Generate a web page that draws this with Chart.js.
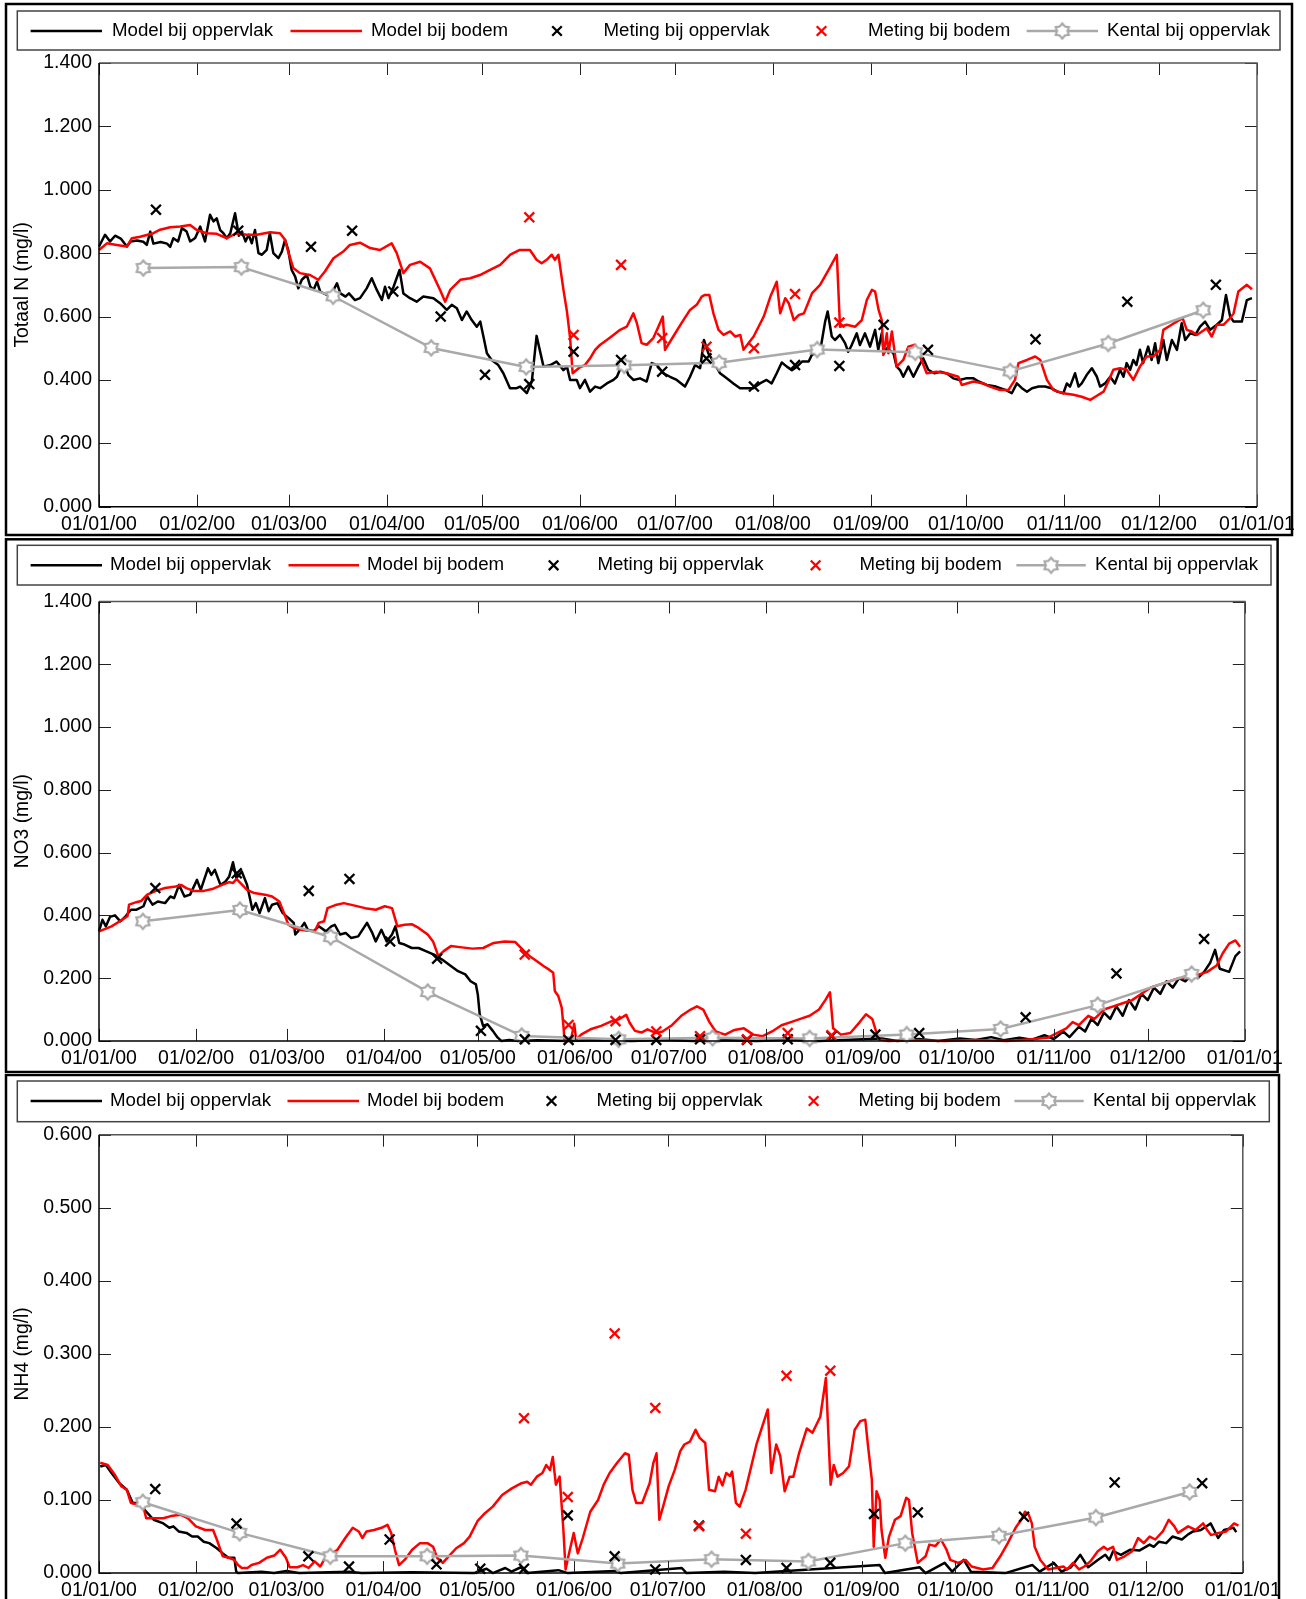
<!DOCTYPE html>
<html><head><meta charset="utf-8">
<script src="https://cdn.jsdelivr.net/npm/chart.js@4.4.1/dist/chart.umd.min.js"></script>
<style>
html,body{margin:0;padding:0;background:#fff;}
#wrap{position:relative;width:1306px;height:1599px;overflow:hidden;background:#fff;}
#wrap canvas{position:absolute;left:0;}
</style></head><body>
<div id="wrap">
<canvas id="c1" width="1306" height="537" style="top:0px"></canvas>
<canvas id="c2" width="1306" height="536" style="top:537px"></canvas>
<canvas id="c3" width="1306" height="526" style="top:1073px"></canvas>
</div>
<script>
// ---------- DATA ----------
const monthTickDays = [0,31,60,91,121,152,182,213,244,274,305,335,366];
const monthTickLabels = ['01/01/00','01/02/00','01/03/00','01/04/00','01/05/00','01/06/00','01/07/00','01/08/00','01/09/00','01/10/00','01/11/00','01/12/00','01/01/01'];
const legendLabels = ['Model bij oppervlak','Model bij bodem','Meting bij oppervlak','Meting bij bodem','Kental bij oppervlak'];
const yTitles = ['Totaal N (mg/l)','NO3 (mg/l)','NH4 (mg/l)'];

const meetDaysOpp = [18,44,67,80,93,108,122,136,150,165,178,192,207,220,234,248,262,296,325,353];
const meetDaysBod = [136,150,165,178,192,207,220,234];
const kentalDays = [14,45,74,105,135,166,196,227,258,288,319,349];

// Totaal N
const totN_meetOpp = [0.937,0.871,0.820,0.871,0.679,0.600,0.416,0.387,0.489,0.463,0.426,0.468,0.379,0.447,0.444,0.574,0.495,0.528,0.647,0.700];
const totN_meetBod = [0.913,0.542,0.763,0.532,0.505,0.500,0.671,0.581];
const totN_kental = [0.753,0.756,0.664,0.501,0.441,0.446,0.454,0.496,0.487,0.427,0.515,0.620];
const totN_modelOpp = [[0,0.821],[1.9,0.858],[3.5,0.837],[5.1,0.855],[7,0.845],[8.8,0.821],[10,0.837],[12,0.840],[14,0.836],[15.1,0.826],[16.2,0.868],[17.2,0.830],[19.5,0.835],[21.5,0.830],[22.5,0.820],[23.5,0.847],[25,0.837],[26.2,0.879],[27.7,0.868],[28.8,0.837],[30.4,0.848],[32,0.884],[33.5,0.837],[35.1,0.921],[36.2,0.900],[37.2,0.910],[38.3,0.873],[39.3,0.863],[40.4,0.847],[41.5,0.863],[43,0.926],[44.2,0.855],[45.2,0.868],[46.3,0.837],[47.3,0.858],[48.3,0.831],[49.3,0.873],[50.4,0.800],[51.5,0.795],[53,0.810],[54,0.863],[55.1,0.800],[56.7,0.784],[57.8,0.805],[58.8,0.842],[59.8,0.810],[60.9,0.747],[62,0.726],[63,0.689],[64.1,0.716],[65.7,0.731],[66.8,0.694],[67.8,0.684],[68.9,0.710],[69.9,0.679],[72,0.668],[73.6,0.673],[75.2,0.705],[76.3,0.673],[77.9,0.663],[79,0.673],[80.9,0.652],[82.5,0.658],[84.6,0.689],[86.2,0.721],[87.8,0.684],[89.4,0.652],[90.4,0.694],[91.5,0.658],[93.1,0.694],[95,0.747],[96.2,0.673],[98.3,0.658],[100.4,0.647],[102.5,0.663],[105.7,0.658],[107.8,0.642],[109.9,0.621],[111.5,0.637],[113.1,0.626],[114.7,0.589],[116.2,0.616],[117.8,0.589],[119.4,0.568],[120.5,0.584],[121.5,0.537],[122.6,0.484],[124.1,0.463],[126.2,0.447],[127.8,0.421],[129.9,0.374],[132,0.374],[133.1,0.379],[135.2,0.358],[136.8,0.395],[138.3,0.539],[140.5,0.442],[142.7,0.447],[144.6,0.458],[146.8,0.431],[147.9,0.442],[148.9,0.400],[151,0.400],[152,0.374],[153.6,0.400],[155.2,0.363],[156.8,0.379],[158.4,0.374],[160.5,0.389],[162.6,0.400],[163.7,0.410],[165.7,0.458],[167.3,0.416],[168.9,0.400],[171,0.405],[173.1,0.395],[174.7,0.453],[176.3,0.447],[178.4,0.421],[180.5,0.410],[182.6,0.400],[185.2,0.379],[186.8,0.410],[188.4,0.447],[190,0.437],[191.2,0.526],[192.6,0.484],[194.2,0.458],[196.3,0.421],[198.4,0.405],[200.5,0.389],[202.6,0.374],[206.8,0.374],[208.9,0.389],[211,0.400],[212.6,0.389],[214.2,0.421],[215.8,0.455],[217.4,0.442],[219,0.431],[220.6,0.442],[222.2,0.458],[224.3,0.458],[225.3,0.479],[226.4,0.484],[228,0.495],[229.5,0.584],[230.3,0.616],[231.6,0.537],[232.6,0.526],[234.2,0.542],[235.8,0.516],[236.8,0.489],[237.9,0.510],[239.5,0.547],[240.5,0.510],[242.1,0.547],[243.7,0.505],[245.3,0.558],[246.3,0.495],[247.4,0.547],[248.1,0.484],[249,0.500],[251.1,0.484],[252.1,0.442],[253.2,0.431],[254.2,0.410],[255.8,0.442],[257.4,0.410],[259,0.442],[260.5,0.468],[262.1,0.432],[264,0.421],[266,0.426],[268,0.420],[270,0.405],[272,0.400],[274,0.405],[276.4,0.405],[278,0.395],[280.6,0.384],[283.5,0.379],[286.7,0.368],[288.5,0.358],[290.1,0.389],[291.7,0.374],[293.3,0.363],[294.9,0.374],[297,0.379],[299,0.379],[301,0.374],[302.9,0.363],[304.8,0.358],[305.9,0.389],[306.9,0.379],[308.5,0.421],[309.6,0.379],[310.6,0.389],[312.2,0.416],[313.8,0.437],[315.4,0.410],[316.4,0.379],[318,0.389],[319.6,0.410],[321.1,0.389],[322.7,0.432],[323.8,0.410],[324.8,0.453],[325.9,0.432],[326.9,0.463],[327.9,0.447],[329,0.495],[330,0.453],[331.6,0.505],[332.7,0.463],[333.8,0.516],[334.8,0.453],[336.4,0.526],[337.5,0.463],[339.1,0.526],[340.7,0.495],[342.2,0.579],[343.3,0.526],[344.9,0.547],[346.5,0.542],[348,0.568],[349.6,0.584],[351.2,0.558],[353.3,0.574],[354.9,0.589],[356.2,0.668],[357.5,0.600],[358.6,0.584],[361.2,0.584],[362.8,0.652],[364.4,0.658]];
const totN_modelBod = [[0,0.810],[2.5,0.831],[5.6,0.826],[8.8,0.821],[10.4,0.847],[13,0.852],[17.2,0.863],[19.3,0.874],[22.5,0.882],[25.7,0.884],[28.8,0.889],[30.9,0.873],[34,0.863],[37.2,0.861],[40.4,0.847],[43.5,0.863],[46.7,0.858],[49.9,0.858],[54.1,0.866],[57.2,0.863],[58.8,0.842],[59.8,0.805],[61.4,0.753],[63.5,0.737],[66.7,0.731],[69.3,0.716],[71.4,0.742],[74.1,0.784],[77.2,0.805],[79.3,0.826],[82.5,0.833],[85.7,0.816],[88.8,0.810],[92.5,0.831],[94.1,0.800],[96.2,0.737],[98.3,0.763],[101.5,0.773],[104.6,0.752],[107.8,0.684],[109.4,0.647],[111,0.684],[114.2,0.716],[117.3,0.721],[120.4,0.731],[123.6,0.747],[126.8,0.763],[130,0.795],[133,0.810],[136.2,0.810],[138.3,0.779],[139.9,0.768],[141.5,0.779],[143.1,0.795],[144.1,0.779],[145.2,0.795],[146.8,0.684],[147.9,0.616],[148.9,0.532],[149.7,0.421],[152,0.440],[153.6,0.447],[155.2,0.468],[156.8,0.495],[158.4,0.511],[160.5,0.526],[162.6,0.542],[164.7,0.558],[166.8,0.568],[168.9,0.610],[170,0.579],[171.5,0.516],[173.1,0.511],[175.2,0.532],[176.8,0.568],[178.2,0.600],[178.9,0.495],[181.5,0.537],[184.1,0.579],[186.8,0.621],[188.9,0.637],[190.5,0.663],[191.5,0.668],[192.9,0.668],[194.2,0.610],[195.8,0.558],[197.4,0.542],[199.5,0.553],[201.1,0.537],[202.7,0.542],[203.7,0.495],[206.9,0.537],[210.1,0.600],[212.2,0.663],[214.2,0.710],[215.3,0.610],[216.9,0.658],[218,0.642],[219.6,0.589],[221.2,0.605],[222.8,0.610],[225.4,0.674],[227.9,0.700],[230.6,0.747],[233.2,0.795],[234.2,0.568],[236.3,0.574],[239,0.568],[241.1,0.589],[242.7,0.653],[244.3,0.684],[245.3,0.679],[246.4,0.621],[247.4,0.589],[247.9,0.479],[249,0.547],[249.5,0.484],[250.6,0.553],[252.1,0.442],[254.2,0.463],[255.8,0.505],[257.9,0.511],[259.5,0.474],[261.6,0.421],[264.7,0.426],[267.9,0.421],[271.6,0.410],[272.7,0.384],[276.4,0.395],[279.5,0.389],[281.6,0.379],[284.8,0.368],[287.4,0.368],[289.5,0.400],[290.6,0.453],[293.3,0.463],[295.9,0.474],[297.5,0.463],[299.6,0.400],[301.7,0.368],[304.8,0.358],[308,0.353],[310.6,0.347],[313.3,0.337],[314.9,0.347],[317.5,0.363],[319,0.395],[320.6,0.432],[322.7,0.437],[324.8,0.432],[326.9,0.400],[329,0.442],[331.1,0.474],[333.2,0.474],[335.4,0.495],[336.4,0.558],[338.5,0.571],[340.6,0.584],[342.5,0.595],[343.8,0.558],[345.4,0.553],[347,0.542],[348.6,0.553],[350.1,0.563],[351.7,0.537],[353.3,0.574],[355.4,0.574],[357.5,0.595],[358.6,0.610],[360.1,0.679],[362.8,0.700],[364.4,0.686]];

// NO3
const no3_meetOpp = [0.487,0.534,0.478,0.516,0.317,0.262,0.032,0.005,0.003,0.003,0.003,0.005,0.003,0.005,0.015,0.020,0.025,0.075,0.215,0.325];
const no3_meetBod = [0.275,0.051,0.063,0.030,0.015,0.005,0.025,0.018];
const no3_kental = [0.381,0.417,0.331,0.156,0.016,0.005,0.010,0.008,0.020,0.038,0.114,0.213];
const no3_modelOpp = [[0,0.349],[1.1,0.386],[2.2,0.365],[3.5,0.395],[5.1,0.400],[6.8,0.381],[8.5,0.397],[10.2,0.418],[12,0.418],[14.2,0.429],[15.4,0.460],[17.1,0.434],[18.8,0.444],[21.1,0.439],[22.8,0.460],[24,0.455],[25.6,0.497],[27.3,0.460],[29.1,0.466],[31.3,0.513],[32.5,0.481],[34.8,0.550],[35.9,0.529],[37,0.545],[38.8,0.497],[40.4,0.508],[41.6,0.524],[42.8,0.569],[43.9,0.519],[45.6,0.540],[47.3,0.497],[49,0.418],[50.1,0.439],[51.3,0.407],[53,0.455],[54.2,0.413],[55.3,0.434],[57,0.439],[58.7,0.407],[60.5,0.392],[62.2,0.376],[62.7,0.339],[64.5,0.360],[65.6,0.376],[66.7,0.354],[68.5,0.349],[70.2,0.365],[72.5,0.349],[74.2,0.365],[75.3,0.370],[77,0.339],[78.8,0.344],[80.5,0.328],[82.8,0.333],[85.6,0.376],[87.3,0.344],[88.4,0.317],[90.2,0.354],[91.9,0.317],[93.6,0.339],[94.7,0.365],[95.9,0.312],[97.6,0.307],[99.9,0.296],[102.1,0.296],[104.4,0.286],[107,0.275],[109.6,0.259],[112.5,0.238],[114.7,0.222],[117,0.212],[118.7,0.190],[120.4,0.180],[121,0.148],[121.6,0.085],[122.7,0.048],[124.1,0.053],[125.8,0.032],[127.3,0.011],[128.5,0],[131,0.003],[134,0],[140,0.002],[150,0],[160,0.002],[170,0],[180,0.003],[190,0],[200,0.002],[210,0],[220,0.003],[230,0],[240,0.004],[250,0.008],[255,0],[262,0.006],[268,0],[275,0.008],[280,0.003],[285,0.012],[289,0.002],[294,0.010],[298,0.004],[302,0.018],[305,0.006],[308,0.030],[310,0.012],[313,0.045],[315,0.030],[317,0.070],[319,0.050],[321,0.090],[323,0.070],[325,0.110],[327,0.080],[329,0.130],[331,0.100],[333,0.150],[335,0.130],[337,0.170],[339,0.150],[341,0.190],[343,0.170],[345,0.200],[347,0.190],[349,0.210],[351,0.200],[353,0.220],[355,0.250],[356.5,0.290],[358,0.230],[361,0.220],[363,0.270],[364.5,0.285]];
const no3_modelBod = [[0,0.349],[4,0.365],[7.4,0.386],[9.1,0.397],[9.6,0.434],[11.9,0.442],[13.5,0.446],[15.4,0.466],[18.2,0.478],[21.1,0.487],[24.5,0.492],[26.2,0.497],[27.9,0.487],[30.2,0.478],[33.5,0.478],[36.5,0.485],[39.3,0.497],[41.6,0.506],[42.8,0.503],[43.9,0.516],[45.6,0.499],[47.3,0.481],[49.6,0.471],[53,0.466],[55.3,0.460],[57.6,0.444],[59.3,0.402],[60.5,0.370],[62.2,0.360],[64.5,0.354],[66.7,0.351],[69,0.351],[70.2,0.376],[71.9,0.381],[73,0.423],[75.9,0.434],[78.2,0.439],[81.7,0.431],[85,0.423],[88.4,0.418],[91.3,0.429],[93.6,0.423],[95.3,0.365],[97.6,0.370],[99.9,0.372],[102.1,0.360],[105,0.339],[106.7,0.317],[108.4,0.270],[110.1,0.286],[112.4,0.302],[115.9,0.298],[119.3,0.294],[122.7,0.296],[126.1,0.312],[129.6,0.317],[133,0.315],[135.8,0.286],[137.6,0.270],[139.9,0.254],[142.1,0.238],[143.8,0.227],[145.1,0.217],[145.6,0.159],[146.7,0.143],[147.8,0.106],[148.4,0.042],[148.7,0],[150.7,0.002],[151.8,0.055],[152.4,0.005],[154.1,0.021],[157,0.037],[160.4,0.048],[163.8,0.063],[166.1,0.069],[168.4,0.083],[169.5,0.058],[171.2,0.032],[173.4,0.027],[175.2,0.037],[178,0.025],[180,0.030],[183,0.050],[186,0.080],[189,0.100],[191,0.110],[193,0.100],[195,0.060],[197,0.030],[200,0.020],[203,0.035],[206,0.040],[209,0.020],[212,0.015],[215,0.030],[218,0.050],[221,0.060],[224,0.070],[227,0.080],[230,0.100],[232,0.130],[233.5,0.155],[234.5,0.040],[237,0.020],[240,0.025],[243,0.060],[245,0.085],[247,0.070],[249,0.005],[252,0],[260,0.002],[270,0],[280,0.003],[290,0],[298,0.005],[303,0.010],[306,0.025],[309,0.040],[311,0.060],[313,0.050],[316,0.080],[318,0.070],[321,0.100],[324,0.110],[327,0.120],[330,0.130],[333,0.150],[336,0.170],[339,0.180],[342,0.190],[345,0.200],[348,0.200],[351,0.210],[354,0.220],[357,0.240],[359,0.280],[361,0.310],[363,0.320],[364.5,0.300]];

// NH4
const nh4_meetOpp = [0.115,0.068,0.023,0.009,0.046,0.012,0.006,0.006,0.079,0.023,0.005,0.065,0.018,0.007,0.014,0.081,0.083,0.077,0.124,0.123];
const nh4_meetBod = [0.212,0.104,0.328,0.226,0.064,0.054,0.270,0.277];
const nh4_kental = [0.097,0.055,0.023,0.023,0.024,0.013,0.019,0.016,0.041,0.051,0.076,0.111];
const nh4_modelOpp = [[0.4,0.146],[2.2,0.148],[4,0.137],[6.5,0.123],[8.9,0.114],[10.8,0.096],[13,0.096],[15.1,0.084],[17.5,0.073],[20.6,0.068],[22.5,0.062],[23.8,0.064],[25.5,0.057],[28,0.055],[29.8,0.050],[31.6,0.050],[33.5,0.043],[35.3,0.041],[37.7,0.034],[39.6,0.027],[41.4,0.021],[43.3,0.021],[43.9,0.002],[44.5,0],[52,0.002],[56,0],[60,0.003],[64,0],[80,0.002],[84,0],[100,0.001],[120,0],[124,0.006],[126,0],[130,0.007],[132,0.002],[135,0.008],[137,0],[147,0.004],[150,0],[165,0.003],[167,0],[186.5,0.007],[188,0],[200,0.002],[210,0],[249.8,0.011],[251.5,0],[262.6,0.008],[264.5,0],[270.6,0.014],[273,0.002],[276.7,0.018],[279,0.002],[290,0],[298.7,0.011],[301,0.002],[305.5,0.014],[308,0.002],[311,0.008],[314,0.025],[316.5,0.008],[319.6,0.018],[322,0.025],[323.3,0.018],[324.5,0.030],[327,0.025],[330,0.032],[333,0.031],[336.2,0.039],[337.5,0.036],[339.2,0.043],[341.5,0.041],[343.5,0.050],[346.5,0.046],[348.5,0.053],[350.1,0.057],[352.6,0.059],[355.7,0.068],[358.1,0.048],[360,0.059],[363,0.062],[363.9,0.056]];
const nh4_modelBod = [[0.4,0.151],[2.8,0.148],[5,0.135],[7.1,0.119],[8.9,0.114],[10.2,0.096],[12.6,0.094],[14.4,0.087],[15.1,0.075],[17.5,0.075],[20.6,0.075],[23,0.078],[26.1,0.080],[28.5,0.075],[31,0.064],[34,0.059],[36.5,0.059],[37.7,0.046],[39.6,0.023],[41.5,0.021],[43.3,0.018],[44.5,0.011],[45.7,0.007],[47.5,0.007],[48.8,0.011],[51.2,0.014],[53.7,0.021],[56.1,0.024],[58,0.032],[59.8,0.021],[61,0.008],[63.5,0.008],[65.3,0.011],[67.1,0.007],[69,0.016],[70.8,0.009],[72,0.018],[73.9,0.025],[76.3,0.032],[78.8,0.048],[81.2,0.062],[83.1,0.057],[84.3,0.048],[85.6,0.057],[88,0.059],[90.4,0.062],[92.3,0.066],[93.5,0.055],[94.7,0.032],[96,0.011],[97.8,0.018],[100.2,0.032],[102.7,0.041],[105.1,0.041],[106.9,0.036],[108.2,0.021],[110,0.014],[111.9,0.023],[114.3,0.034],[116.8,0.041],[118.6,0.050],[121.1,0.071],[123.5,0.082],[126,0.091],[129,0.107],[132.1,0.116],[135.2,0.123],[137,0.125],[138.2,0.121],[140.1,0.132],[141.9,0.137],[143.1,0.148],[144.3,0.141],[145.2,0.159],[146.2,0.121],[147.4,0.132],[148.6,0.059],[149.3,0.005],[150.2,0.023],[151.9,0.055],[153.2,0.027],[154.8,0.048],[157.2,0.084],[159.7,0.100],[161.5,0.121],[163.4,0.137],[165.8,0.151],[168.3,0.164],[169.5,0.162],[170.7,0.114],[171.9,0.096],[173.8,0.096],[176.2,0.123],[177.4,0.151],[178.4,0.164],[179.3,0.073],[180.5,0.091],[182.3,0.119],[184.2,0.141],[186,0.167],[187.3,0.176],[189.1,0.180],[190.9,0.196],[192.2,0.185],[194,0.178],[195.2,0.114],[197.1,0.112],[198.3,0.132],[199.5,0.120],[200.7,0.137],[201.9,0.133],[202.6,0.139],[203.8,0.096],[205,0.091],[206.9,0.114],[208.7,0.146],[210.5,0.178],[212.4,0.203],[214,0.224],[215.1,0.137],[216.7,0.176],[218,0.160],[219.4,0.112],[221,0.132],[222.2,0.132],[224,0.164],[226.5,0.198],[228.3,0.192],[230.8,0.214],[232.6,0.267],[234.1,0.121],[235.1,0.148],[236.3,0.132],[238.1,0.137],[240,0.146],[241.8,0.196],[243.6,0.208],[245.2,0.210],[246.1,0.173],[247.3,0.128],[247.9,0.036],[248.8,0.112],[249.8,0.100],[250.4,0.059],[251.6,0.021],[252.8,0.050],[254.7,0.073],[256.5,0.078],[258.3,0.103],[259.2,0.100],[260.2,0.055],[262,0.014],[264.5,0.023],[265.7,0.039],[267.6,0.037],[269.4,0.046],[271.2,0.032],[272.4,0.018],[274.9,0.014],[277.3,0.018],[279.2,0.009],[282.9,0.005],[285.9,0.007],[288.4,0.023],[290.8,0.041],[293.3,0.062],[295.1,0.073],[296.3,0.084],[297.5,0.080],[298.5,0.068],[299.4,0.036],[301.2,0.018],[303.7,0.005],[306.1,0.007],[308.6,0.009],[309.8,0.005],[311.7,0.014],[313.6,0.005],[315.3,0.009],[317.2,0.016],[319.6,0.030],[321.5,0.036],[322.7,0.032],[324.5,0.036],[325.7,0.018],[328.2,0.023],[330.6,0.030],[332.5,0.048],[334.3,0.041],[336.2,0.050],[338,0.046],[340.4,0.057],[342.3,0.073],[344.1,0.064],[345.3,0.055],[348.5,0.064],[350.9,0.059],[353.3,0.068],[354.6,0.059],[355.8,0.052],[358.3,0.055],[360.7,0.057],[363.2,0.068],[364.6,0.065]];

// ---------- STYLE / RENDER ----------
const FONT = '"Liberation Sans", Arial, Helvetica, sans-serif';
const RED = '#ff0000', BLACK = '#000000', GRAY = '#a9a9a9';

function makeGear(color){
  const c = document.createElement('canvas'); c.width = 20; c.height = 20;
  const g = c.getContext('2d');
  g.beginPath();
  for (let i = 0; i < 12; i++) {
    const r = (i % 2) ? 5.2 : 7.6;
    const ang = -Math.PI / 2 + i * Math.PI / 6;
    g.lineTo(10 + r * Math.cos(ang), 10 + r * Math.sin(ang));
  }
  g.closePath(); g.fillStyle = '#fff'; g.fill();
  g.strokeStyle = color; g.lineWidth = 2.2; g.stroke();
  return c;
}
const gear = makeGear(GRAY);

const pairs = arr => arr.map(p => ({x: p[0], y: p[1]}));
const zip = (days, vals) => days.map((d, i) => ({x: d, y: vals[i]}));

const decoPlugin = {
  id: 'panelDeco',
  afterDraw(chart, args, o) {
    const ctx = chart.ctx, a = chart.chartArea;
    const xs = chart.scales.x, ys = chart.scales.y;
    ctx.save();
    ctx.strokeStyle = '#222'; ctx.lineWidth = 1;
    ctx.beginPath();
    xs.ticks.forEach(t => {
      const px = Math.round(xs.getPixelForValue(t.value)) + 0.5;
      ctx.moveTo(px, a.bottom); ctx.lineTo(px, a.bottom - 12);
      ctx.moveTo(px, a.top); ctx.lineTo(px, a.top + 12);
    });
    ys.ticks.forEach(t => {
      const py = Math.round(ys.getPixelForValue(t.value)) + 0.5;
      ctx.moveTo(a.left, py); ctx.lineTo(a.left + 12, py);
      ctx.moveTo(a.right, py); ctx.lineTo(a.right - 12, py);
    });
    ctx.stroke();
    ctx.lineWidth = 1.5; ctx.strokeStyle = '#555';
    ctx.beginPath(); ctx.moveTo(a.left, a.top); ctx.lineTo(a.right, a.top); ctx.lineTo(a.right, a.bottom); ctx.stroke();
    ctx.strokeStyle = '#000';
    ctx.beginPath(); ctx.moveTo(a.left, a.top); ctx.lineTo(a.left, a.bottom); ctx.lineTo(a.right, a.bottom); ctx.stroke();
    ctx.lineWidth = 2.5; ctx.strokeStyle = '#000';
    const b = o.border; ctx.strokeRect(b[0], b[1], b[2] - b[0], b[3] - b[1]);
    const L = o.legend;
    ctx.lineWidth = 1.5; ctx.strokeStyle = '#444';
    ctx.strokeRect(L.box[0], L.box[1], L.box[2] - L.box[0], L.box[3] - L.box[1]);
    const cy = L.cy;
    ctx.font = '18.7px ' + FONT; ctx.textBaseline = 'middle'; ctx.textAlign = 'left'; ctx.fillStyle = '#000';
    const it = L.items;
    const drawLine = (x0, x1, col) => { ctx.strokeStyle = col; ctx.lineWidth = 2.5; ctx.beginPath(); ctx.moveTo(x0, cy); ctx.lineTo(x1, cy); ctx.stroke(); };
    const drawCross = (cx, col) => { const r = 4.8; ctx.strokeStyle = col; ctx.lineWidth = 2.3; ctx.beginPath(); ctx.moveTo(cx - r, cy - r); ctx.lineTo(cx + r, cy + r); ctx.moveTo(cx + r, cy - r); ctx.lineTo(cx - r, cy + r); ctx.stroke(); };
    drawLine(it[0][0], it[0][1], BLACK); ctx.fillText(legendLabels[0], it[0][2], cy);
    drawLine(it[1][0], it[1][1], RED); ctx.fillText(legendLabels[1], it[1][2], cy);
    drawCross(it[2][0], BLACK); ctx.fillText(legendLabels[2], it[2][2], cy);
    drawCross(it[3][0], RED); ctx.fillText(legendLabels[3], it[3][2], cy);
    drawLine(it[4][0], it[4][1], GRAY);
    ctx.drawImage(gear, (it[4][0] + it[4][1]) / 2 - 10, cy - 10);
    ctx.fillText(legendLabels[4], it[4][2], cy);
    ctx.restore();
  }
};

function makePanel(id, cfg) {
  const datasets = [
    {label: legendLabels[3], data: zip(meetDaysBod, cfg.meetBod), showLine: false, pointStyle: 'crossRot', pointRadius: 7, pointBorderWidth: 2.3, borderColor: RED, backgroundColor: RED, clip: false},
    {label: legendLabels[2], data: zip(meetDaysOpp, cfg.meetOpp), showLine: false, pointStyle: 'crossRot', pointRadius: 7, pointBorderWidth: 2.3, borderColor: BLACK, backgroundColor: BLACK, clip: false},
    {label: legendLabels[4], data: zip(kentalDays, cfg.kental), borderColor: GRAY, borderWidth: 2.5, pointStyle: gear, pointRadius: 8, clip: false},
    {label: legendLabels[1], data: pairs(cfg.modelBod), borderColor: RED, borderWidth: 2.5, pointRadius: 0, clip: false},
    {label: legendLabels[0], data: pairs(cfg.modelOpp), borderColor: BLACK, borderWidth: 2.5, pointRadius: 0, clip: false}
  ];
  return new Chart(document.getElementById(id), {
    type: 'line',
    data: {datasets},
    options: {
      responsive: false, animation: false, devicePixelRatio: 1,
      layout: {padding: cfg.padding},
      elements: {line: {tension: 0, borderJoinStyle: 'round'}},
      plugins: {legend: {display: false}, tooltip: {enabled: false}, panelDeco: {border: cfg.border, legend: cfg.legend}},
      scales: {
        x: {
          type: 'linear', min: 0, max: 366,
          grid: {display: false, drawTicks: false}, border: {display: false},
          afterBuildTicks: s => { s.ticks = monthTickDays.map(v => ({value: v})); },
          afterFit: s => { s.height = cfg.xAxisH; },
          ticks: {autoSkip: false, maxRotation: 0, minRotation: 0, padding: 6, color: '#000', font: {family: FONT, size: 19.5},
            callback: (v, i) => monthTickLabels[i]}
        },
        y: {
          min: 0, max: cfg.ymax,
          grid: {display: false, drawTicks: false}, border: {display: false},
          afterFit: s => { s.width = 99; },
          ticks: {stepSize: cfg.ystep, padding: 7, color: '#000', font: {family: FONT, size: 19.5},
            callback: v => Number(v).toFixed(3)},
          title: {display: true, text: cfg.title, color: '#000', font: {family: FONT, size: 19.3}, padding: {top: 11, bottom: 0}}
        }
      }
    },
    plugins: [decoPlugin]
  });
}

makePanel('c1', {
  meetOpp: totN_meetOpp, meetBod: totN_meetBod, kental: totN_kental, modelOpp: totN_modelOpp, modelBod: totN_modelBod,
  ymax: 1.4, ystep: 0.2, title: yTitles[0], xAxisH: 30,
  padding: {top: 63, right: 49, bottom: 0.3, left: 0},
  border: [6, 4, 1292, 535],
  legend: {box: [17.3, 11, 1280, 50], cy: 31, items: [[30.6, 102, 112], [290.5, 362, 371], [557, 0, 603.5], [821.5, 0, 868], [1026.6, 1098, 1107]]}
});
makePanel('c2', {
  meetOpp: no3_meetOpp, meetBod: no3_meetBod, kental: no3_kental, modelOpp: no3_modelOpp, modelBod: no3_modelBod,
  ymax: 1.4, ystep: 0.2, title: yTitles[1], xAxisH: 30,
  padding: {top: 64.5, right: 61.2, bottom: 2.1, left: 0},
  border: [6, 2.3, 1277.6, 535],
  legend: {box: [17.3, 8.3, 1271, 48], cy: 28.3, items: [[30.6, 102, 110], [288.5, 359, 367], [553.6, 0, 597.4], [815.6, 0, 859.4], [1016.4, 1085.8, 1095]]}
});
makePanel('c3', {
  meetOpp: nh4_meetOpp, meetBod: nh4_meetBod, kental: nh4_kental, modelOpp: nh4_modelOpp, modelBod: nh4_modelBod,
  ymax: 0.6, ystep: 0.1, title: yTitles[2], xAxisH: 25,
  padding: {top: 61.7, right: 63.2, bottom: 0.9, left: 0},
  border: [6, 2, 1279, 560],
  legend: {box: [17.3, 8, 1269.3, 48.7], cy: 28, items: [[30.6, 102, 110], [287.5, 359, 367], [551.5, 0, 596.4], [813.6, 0, 858.4], [1014.4, 1083.7, 1092.9]]}
});
</script>
</body></html>
